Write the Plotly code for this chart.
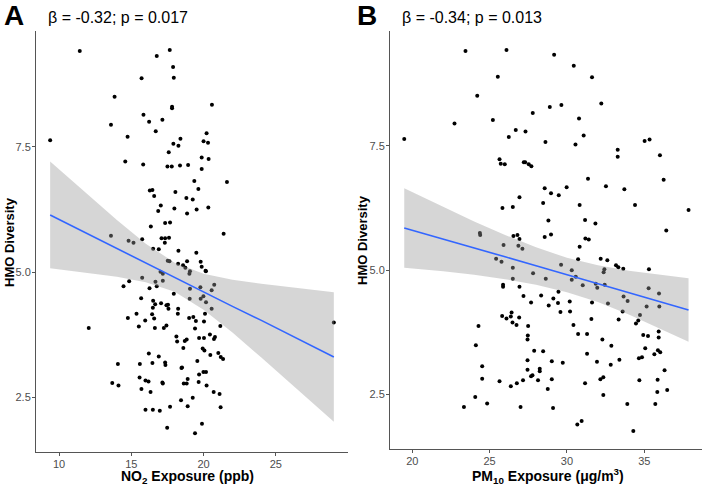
import plotly.graph_objects as go

W, H = 704, 485

# ---- panel A: NO2 exposure vs HMO diversity ----
no2_x = [9.38, 11.43, 16.76, 17.66, 17.89, 17.94, 15.71, 13.84, 17.82, 17.82, 20.58, 15.84, 16.23, 17.15,
         13.59, 14.74, 16.69, 20.21, 20.00, 20.31, 18.40, 17.91, 18.26, 17.59, 19.87, 20.35, 14.58, 15.82,
         17.50, 17.80, 18.37, 18.93, 19.87, 21.62, 19.36, 16.28, 16.46, 18.05, 19.64, 16.58, 18.81, 19.25,
         20.33, 17.04, 16.86, 17.98, 18.86, 19.52, 16.35, 17.34, 17.68, 21.39, 13.59, 14.81, 15.15, 15.75,
         17.09, 17.34, 17.61, 17.32, 16.51, 16.90, 18.26, 19.50, 17.52, 17.64, 18.24, 18.58, 18.74, 18.86,
         19.80, 19.87, 20.14, 20.16, 19.06, 19.02, 17.02, 17.18, 15.75, 16.67, 17.18, 14.46, 14.85, 16.26,
         16.76, 19.78, 20.56, 20.74, 19.06, 17.94, 19.04, 19.80, 19.99, 20.17, 20.56, 15.68, 16.51, 16.65,
         17.06, 17.43, 17.54, 16.49, 16.44, 17.57, 18.24, 18.22, 15.36, 14.76, 15.96, 16.58, 19.00, 19.29,
         19.47, 20.03, 20.10, 12.05, 15.52, 16.63, 17.25, 17.43, 19.41, 21.16, 20.44, 20.79, 20.72, 19.69,
         20.03, 18.12, 18.17, 18.83, 18.70, 18.60, 19.94, 20.06, 20.47, 21.02, 21.19, 21.35, 16.21, 16.90,
         19.57, 14.07, 15.59, 16.46, 17.34, 17.36, 18.47, 18.51, 19.69, 19.99, 20.17, 15.57, 15.98, 16.19,
         17.15, 17.18, 18.63, 18.83, 18.90, 19.66, 13.68, 14.11, 15.70, 16.33, 20.21, 20.70, 21.11, 19.25,
         18.44, 17.68, 18.90, 21.18, 15.98, 16.49, 16.97, 19.89, 17.48, 19.41, 29.02]
no2_hmo = [7.63, 9.41, 9.31, 9.43, 9.09, 8.88, 8.87, 8.50, 8.30, 8.27, 8.34, 8.14, 8.00, 8.04,
           7.94, 7.70, 7.81, 7.77, 7.61, 7.58, 7.66, 7.56, 7.52, 7.39, 7.29, 7.26, 7.21, 7.15,
           7.11, 7.11, 7.13, 7.14, 7.06, 6.80, 6.82, 6.63, 6.64, 6.60, 6.66, 6.52, 6.48, 6.45,
           6.29, 6.33, 6.22, 6.27, 6.17, 6.25, 5.91, 5.98, 5.99, 5.77, 5.73, 5.63, 5.59, 5.66,
           5.68, 5.68, 5.69, 5.59, 5.47, 5.46, 5.43, 5.39, 5.23, 5.22, 5.17, 5.14, 5.09, 5.22,
           5.21, 5.11, 5.03, 5.02, 5.02, 4.97, 5.01, 4.97, 4.89, 4.81, 4.83, 4.72, 4.82, 4.68,
           4.72, 4.70, 4.64, 4.75, 4.67, 4.57, 4.47, 4.47, 4.52, 4.40, 4.27, 4.48, 4.43, 4.36,
           4.38, 4.34, 4.35, 4.29, 4.16, 4.27, 4.27, 4.17, 4.17, 4.09, 4.04, 4.08, 4.09, 4.11,
           4.03, 4.02, 4.17, 3.89, 3.92, 3.89, 3.89, 3.94, 3.88, 3.93, 3.76, 3.71, 3.67, 3.69,
           3.69, 3.72, 3.62, 3.66, 3.63, 3.49, 3.48, 3.44, 3.35, 3.39, 3.31, 3.27, 3.38, 3.32,
           3.23, 3.17, 3.17, 3.19, 3.20, 3.15, 3.09, 3.10, 2.96, 3.01, 3.01, 2.90, 2.84, 2.82,
           2.80, 2.78, 2.78, 2.78, 2.87, 2.81, 2.79, 2.74, 2.67, 2.61, 2.74, 2.61, 2.57, 2.50,
           2.45, 2.32, 2.33, 2.31, 2.26, 2.26, 2.24, 1.98, 1.90, 1.79, 4.00]

# fitted line and 95% band, read at a few x positions
no2_fit_x = [9.38, 12, 14, 16, 18, 20, 22, 24, 26, 29.02]
no2_fit = [6.14, 5.76, 5.48, 5.19, 4.90, 4.61, 4.32, 4.04, 3.75, 3.31]
no2_hi = [7.21, 6.54, 6.04, 5.57, 5.19, 4.97, 4.85, 4.77, 4.70, 4.60]
no2_lo = [5.08, 4.99, 4.91, 4.80, 4.61, 4.25, 3.80, 3.30, 2.80, 2.02]

# ---- panel B: PM10 exposure vs HMO diversity ----
pm_x = [19.48, 23.44, 26.09, 29.17, 30.44, 31.62, 25.53, 24.20, 28.89, 29.64, 32.22, 27.79, 22.73, 25.21,
        30.78, 26.69, 27.32, 26.24, 31.08, 28.61, 30.55, 35.02, 35.34, 33.28, 33.28, 36.01, 25.64, 25.72,
        25.98, 27.21, 27.30, 27.53, 27.70, 36.25, 31.36, 28.56, 28.97, 29.47, 29.98, 32.52, 33.71, 26.93,
        28.46, 25.83, 26.50, 30.82, 34.40, 37.86, 28.80, 31.17, 31.84, 36.42, 24.37, 24.39, 26.54, 26.80,
        26.93, 28.56, 28.97, 31.19, 31.41, 25.90, 26.86, 27.12, 30.82, 25.42, 25.77, 26.50, 27.81, 28.63,
        26.50, 25.87, 25.87, 26.93, 30.72, 29.62, 30.31, 30.57, 30.31, 32.18, 32.61, 32.42, 32.37, 33.17,
        33.32, 33.64, 35.30, 31.02, 31.86, 31.96, 32.44, 35.28, 35.95, 33.66, 33.92, 33.60, 33.34, 32.65,
        31.62, 31.58, 35.15, 35.97, 34.72, 34.61, 34.46, 35.93, 35.93, 34.93, 35.24, 35.06, 35.88, 36.03,
        35.65, 34.85, 34.65, 33.39, 32.83, 31.94, 31.30, 32.87, 32.29, 31.30, 30.72, 30.42, 30.20, 30.18,
        29.58, 29.42, 29.45, 29.12, 28.82, 28.33, 27.68, 27.19, 26.91, 26.74, 26.48, 26.42, 26.37, 26.09,
        25.81, 27.47, 27.45, 27.49, 27.88, 27.45, 27.45, 27.77, 27.68, 28.24, 28.24, 28.13, 27.16, 26.76,
        26.37, 25.64, 24.52, 24.52, 24.28, 24.11, 24.07, 24.84, 23.34, 27.00, 28.46, 29.02, 29.02, 28.76,
        29.10, 29.73, 31.17, 32.16, 32.35, 32.35, 33.90, 34.29, 30.67, 30.95, 34.68, 35.71, 35.86, 35.84,
        36.48, 36.31]
pm_hmo = [7.64, 9.41, 9.43, 9.33, 9.11, 8.88, 8.89, 8.51, 8.28, 8.32, 8.35, 8.16, 7.95, 8.02,
          8.05, 7.82, 7.79, 7.68, 7.71, 7.58, 7.53, 7.60, 7.63, 7.42, 7.28, 7.31, 7.23, 7.14,
          7.13, 7.17, 7.17, 7.13, 7.09, 6.82, 6.84, 6.65, 6.55, 6.51, 6.67, 6.69, 6.63, 6.47,
          6.35, 6.25, 6.27, 6.31, 6.31, 6.21, 6.00, 6.01, 5.94, 5.80, 5.75, 5.71, 5.69, 5.71,
          5.63, 5.67, 5.72, 5.64, 5.62, 5.51, 5.49, 5.43, 5.47, 5.23, 5.17, 5.05, 4.94, 4.83,
          4.83, 4.71, 4.67, 4.67, 5.22, 5.11, 5.00, 4.87, 4.81, 5.23, 5.20, 5.02, 4.96, 5.10,
          5.06, 5.03, 5.02, 4.70, 4.73, 4.65, 4.71, 4.64, 4.53, 4.47, 4.38, 4.17, 4.01, 4.33,
          4.35, 4.02, 4.27, 4.27, 4.10, 3.99, 3.93, 3.77, 3.65, 3.70, 3.68, 3.43, 3.39, 3.35,
          3.31, 3.25, 3.23, 3.20, 3.10, 3.16, 3.32, 3.48, 3.61, 3.72, 3.72, 3.90, 4.17, 4.37,
          4.16, 4.34, 4.57, 4.43, 4.29, 4.49, 4.35, 4.48, 4.05, 3.90, 3.95, 4.15, 4.07, 4.03,
          4.08, 3.69, 3.61, 3.88, 3.38, 3.19, 3.00, 2.89, 2.87, 3.02, 2.97, 2.79, 2.79, 2.73,
          2.67, 2.77, 2.82, 3.07, 3.88, 3.49, 2.45, 2.32, 2.25, 2.25, 3.37, 3.17, 2.81, 2.61,
          2.23, 3.14, 2.73, 2.81, 2.85, 2.49, 2.31, 1.77, 1.90, 1.97, 2.79, 2.31, 2.80, 2.55,
          2.59, 2.99]

pm_fit_x = [19.48, 22, 24, 26, 28, 30, 32, 34, 36, 37.86]
pm_fit = [5.85, 5.62, 5.45, 5.27, 5.09, 4.91, 4.73, 4.55, 4.37, 4.20]
pm_hi = [6.65, 6.27, 5.98, 5.71, 5.46, 5.25, 5.10, 4.99, 4.91, 4.84]
pm_lo = [5.05, 4.98, 4.91, 4.82, 4.71, 4.56, 4.36, 4.11, 3.83, 3.56]

fig = go.Figure()

panels = [
    ("x", "y", no2_x, no2_hmo, no2_fit_x, no2_fit, no2_hi, no2_lo),
    ("x2", "y2", pm_x, pm_hmo, pm_fit_x, pm_fit, pm_hi, pm_lo),
]
for xa, ya, px_, py_, fx, fy, hi, lo in panels:
    fig.add_trace(go.Scatter(x=px_, y=py_, mode="markers", xaxis=xa, yaxis=ya,
                             marker=dict(color="black", size=4), showlegend=False))
    # ribbon drawn over the points, like geom_smooth
    fig.add_trace(go.Scatter(x=fx + fx[::-1], y=hi + lo[::-1], fill="toself", xaxis=xa, yaxis=ya,
                             fillcolor="rgba(153,153,153,0.4)", line=dict(width=0),
                             mode="lines", showlegend=False, hoverinfo="skip"))
    fig.add_trace(go.Scatter(x=fx, y=fy, mode="lines", xaxis=xa, yaxis=ya,
                             line=dict(color="#3366FF", width=1.6), showlegend=False))

axis_style = dict(showgrid=False, zeroline=False, showline=True, linecolor="#555", linewidth=1,
                  ticks="outside", ticklen=3, tickcolor="#555",
                  tickfont=dict(family="Liberation Sans, Arial", size=11, color="#4D4D4D"))

yt = dict(tickvals=[2.5, 5.0, 7.5], ticktext=["2.5", "5.0", "7.5"], ticklabelstandoff=-1)

fig.update_layout(
    width=W, height=H,
    margin=dict(l=0, r=0, t=0, b=0),
    paper_bgcolor="white", plot_bgcolor="white",
    font=dict(family="Liberation Sans, Arial", color="black"),
    xaxis=dict(domain=[36 / W, 348 / W], range=[8.4, 30.0], tickvals=[10, 15, 20, 25],
               ticklabelstandoff=-2, anchor="y", **axis_style),
    yaxis=dict(domain=[1 - 452.3 / H, 1 - 31 / H], range=[1.41, 9.81], anchor="x", **yt, **axis_style),
    xaxis2=dict(domain=[390 / W, 702 / W], range=[18.56, 38.73], tickvals=[20, 25, 30, 35],
                ticklabelstandoff=-2, anchor="y2", **axis_style),
    yaxis2=dict(domain=[1 - 449.3 / H, 1 - 31 / H], range=[1.40, 9.81], anchor="x2", **yt, **axis_style),
)

def ann(text, x, y, size, bold=False, xanchor="center", angle=0):
    fig.add_annotation(text=f"<b>{text}</b>" if bold else text, x=x / W, y=1 - y / H,
                       xref="paper", yref="paper", showarrow=False, xanchor=xanchor,
                       yanchor="middle", textangle=angle,
                       font=dict(family="Liberation Sans, Arial", size=size, color="black"))

ann("A", 2, 15, 28, bold=True, xanchor="left")
ann("B", 355, 15, 28, bold=True, xanchor="left")
ann("β = -0.32; p = 0.017", 46, 18, 16, xanchor="left")
ann("β = -0.34; p = 0.013", 400, 18, 16, xanchor="left")
ann("HMO Diversity", 9, 242, 13, bold=True, angle=-90)
ann("HMO Diversity", 362, 240, 13, bold=True, angle=-90)
ann("NO<sub>2</sub> Exposure (ppb)", 187, 477, 14, bold=True)
ann("PM<sub>10</sub> Exposure (μg/m<sup>3</sup>)", 548, 476, 14, bold=True)

# drop the default 8px body margin so the figure sits at the window's corner
fig.write_html("out.html", config={"displayModeBar": False},
               post_script="document.body.style.margin='0';")
